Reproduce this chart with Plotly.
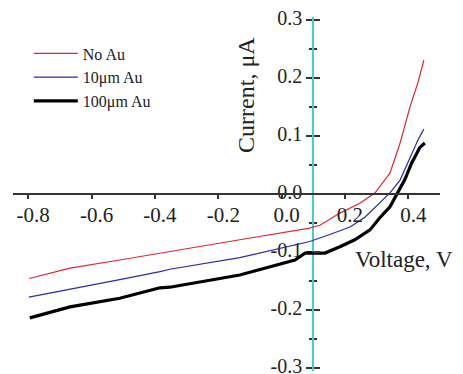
import plotly.graph_objects as go

# Data
v_noau = [-0.797, -0.668, -0.511, -0.384, -0.353, -0.132, 0.089, 0.099, 0.121, 0.184, 0.247, 0.295, 0.342, 0.374, 0.405, 0.430, 0.449]
i_noau = [-0.146, -0.128, -0.114, -0.102, -0.100, -0.079, -0.059, -0.057, -0.054, -0.033, -0.016, 0.002, 0.036, 0.088, 0.150, 0.192, 0.231]

v_10 = [-0.798, -0.668, -0.511, -0.384, -0.353, -0.132, 0.089, 0.152, 0.216, 0.263, 0.310, 0.342, 0.374, 0.405, 0.430, 0.449]
i_10 = [-0.178, -0.165, -0.148, -0.134, -0.130, -0.110, -0.082, -0.070, -0.057, -0.040, -0.016, 0.002, 0.024, 0.064, 0.093, 0.112]

v_100 = [-0.795, -0.668, -0.511, -0.384, -0.353, -0.132, 0.042, 0.074, 0.105, 0.137, 0.184, 0.231, 0.279, 0.310, 0.342, 0.364, 0.389, 0.411, 0.436, 0.452]
i_100 = [-0.214, -0.195, -0.180, -0.162, -0.161, -0.140, -0.114, -0.102, -0.102, -0.102, -0.091, -0.079, -0.062, -0.041, -0.022, -0.001, 0.025, 0.054, 0.080, 0.088]

series_names = ["No Au", "10\u03bcm Au", "100\u03bcm Au"]
series_colors = ["#e0282c", "#2a2ab4", "#000000"]
series_widths = [1.2, 1.2, 3.2]

x_ticks = [-0.8, -0.6, -0.4, -0.2, 0.0, 0.2, 0.4]
y_ticks = [-0.3, -0.2, -0.1, 0.0, 0.1, 0.2, 0.3]
y_minor = [-0.25, -0.15, -0.05, 0.05, 0.15, 0.25]

X_RANGE = [-0.848, 0.5]
Y_RANGE = [-0.3057, 0.3057]
Y_AXIS_AT = 0.1

FONT = "Liberation Serif"
TXT = "#222222"

fig = go.Figure()
for (vx, iy), name, col, w in zip([(v_noau, i_noau), (v_10, i_10), (v_100, i_100)],
                                   series_names, series_colors, series_widths):
    fig.add_trace(go.Scatter(x=vx, y=iy, mode="lines", name=name, legendgroup=name,
                             line=dict(color=col, width=w)))

fig.add_trace(go.Scatter(x=[None], y=[None], yaxis="y2", showlegend=False, hoverinfo="skip"))

ypos = (Y_AXIS_AT - X_RANGE[0]) / (X_RANGE[1] - X_RANGE[0])

# the page body adds an 8px offset, so margins are shifted accordingly
fig.update_layout(
    width=463, height=374,
    margin=dict(l=5, r=31, t=9, b=11, autoexpand=False),
    paper_bgcolor="white", plot_bgcolor="white",
    font=dict(family=FONT, color=TXT),
    xaxis=dict(range=X_RANGE, anchor="free", position=0.5, automargin=False,
               showline=True, linecolor="#333333", linewidth=1.5,
               ticks="outside", ticklen=4, tickcolor="#333333", tickwidth=1.5,
               tickvals=x_ticks, ticktext=[f"{t:.1f}" for t in x_ticks],
               ticklabelshift=5, ticklabelstandoff=-2, ticklabeloverflow="allow",
               showgrid=False, zeroline=False,
               tickfont=dict(family=FONT, size=21, color=TXT)),
    yaxis=dict(range=Y_RANGE, anchor="free", position=ypos, side="left", automargin=False,
               showline=True, linecolor="#40d0d0", linewidth=2,
               ticks="outside", ticklen=6, tickcolor="#333333", tickwidth=1.5,
               tickvals=y_ticks, ticktext=[f"{t:.1f}" for t in y_ticks],
               ticklabelshift=-2, ticklabeloverflow="allow",
               minor=dict(ticks="outside", ticklen=3, tickcolor="#333333", tickvals=y_minor),
               showgrid=False, zeroline=False, layer="below traces",
               tickfont=dict(family=FONT, size=20, color=TXT)),
    yaxis2=dict(range=Y_RANGE, overlaying="y", anchor="free", position=ypos, side="left",
                automargin=False,
                showline=False, ticks="inside", ticklen=6, tickcolor="#333333", tickwidth=1.5,
                tickvals=y_ticks, showticklabels=False,
                minor=dict(ticks="inside", ticklen=3, tickcolor="#333333", tickvals=y_minor),
                showgrid=False, zeroline=False),
    legend=dict(x=0.037, y=0.945, xanchor="left", yanchor="top", itemwidth=44,
                bgcolor="rgba(0,0,0,0)", font=dict(family=FONT, size=16, color=TXT),
                tracegroupgap=0),
    showlegend=True,
    annotations=[
        dict(text="Current, \u03bcA", xref="paper", yref="paper", x=0.5457, y=0.78,
             xanchor="center", yanchor="middle",
             textangle=-90, showarrow=False, font=dict(family=FONT, size=24, color=TXT)),
        dict(text="Voltage, V", xref="paper", yref="paper", x=0.915, y=0.316,
             xanchor="center", yanchor="middle",
             showarrow=False, font=dict(family=FONT, size=23, color=TXT)),
    ],
)

fig.write_html("out.html")
